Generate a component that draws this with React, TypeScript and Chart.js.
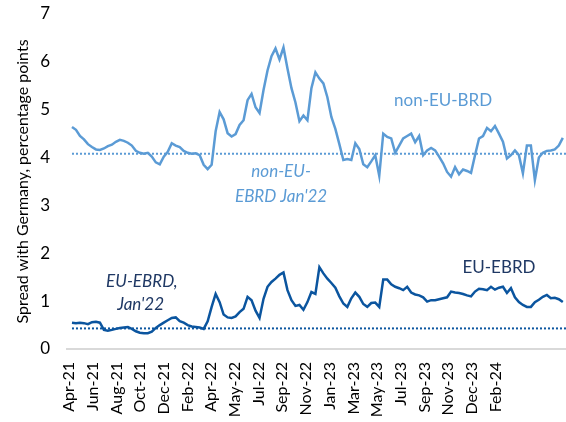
import React, { useEffect, useRef } from 'react';
import { Chart, registerables } from 'chart.js';

Chart.register(...registerables);

// Tick labels along the time axis (every ~2 months)
const tickLabels = [
  'Apr-21', 'Jun-21', 'Aug-21', 'Oct-21', 'Dec-21', 'Feb-22', 'Apr-22', 'May-22', 'Jul-22',
  'Sep-22', 'Nov-22', 'Jan-23', 'Mar-23', 'May-23', 'Jul-23', 'Sep-23', 'Nov-23', 'Dec-23', 'Feb-24',
];

// Spread with Germany, non-EU EBRD countries (pp), roughly weekly readings Apr-21 .. Mar-24
const nonEU = [
  4.64, 4.58, 4.45, 4.38, 4.28, 4.22, 4.17, 4.16, 4.19, 4.24,
  4.27, 4.33, 4.37, 4.35, 4.31, 4.25, 4.14, 4.10, 4.08, 4.10,
  4.02, 3.90, 3.86, 4.02, 4.12, 4.30, 4.25, 4.22, 4.14, 4.10,
  4.08, 4.09, 4.05, 3.85, 3.76, 3.85, 4.55, 4.95, 4.80, 4.51,
  4.44, 4.49, 4.68, 4.78, 5.20, 5.33, 5.05, 4.93, 5.41, 5.82,
  6.12, 6.28, 6.05, 6.30, 5.86, 5.45, 5.15, 4.76, 4.88, 4.78,
  5.45, 5.78, 5.65, 5.55, 5.26, 4.85, 4.60, 4.28, 3.95, 3.97,
  3.95, 4.30, 4.18, 3.86, 3.80, 3.92, 4.05, 3.62, 4.50, 4.43,
  4.40, 4.10, 4.25, 4.40, 4.45, 4.50, 4.32, 4.45, 4.05, 4.15,
  4.20, 4.15, 4.02, 3.88, 3.70, 3.60, 3.80, 3.65, 3.75, 3.72,
  3.68, 4.05, 4.40, 4.45, 4.62, 4.55, 4.66, 4.50, 4.33, 3.98,
  4.05, 4.15, 4.05, 3.67, 4.25, 4.25, 3.53, 4.00, 4.10, 4.14,
  4.15, 4.17, 4.25, 4.41,
];

// Spread with Germany, EU EBRD countries (pp)
const euEBRD = [
  0.55, 0.54, 0.55, 0.54, 0.52, 0.56, 0.57, 0.55, 0.40, 0.38,
  0.40, 0.42, 0.44, 0.45, 0.46, 0.42, 0.37, 0.34, 0.33, 0.33,
  0.36, 0.44, 0.50, 0.55, 0.60, 0.65, 0.66, 0.58, 0.55, 0.50,
  0.47, 0.46, 0.45, 0.42, 0.58, 0.88, 1.15, 0.98, 0.72, 0.66,
  0.65, 0.68, 0.77, 0.84, 1.09, 1.02, 0.80, 0.65, 1.05, 1.30,
  1.40, 1.47, 1.55, 1.60, 1.23, 1.02, 0.90, 0.92, 0.82, 0.98,
  1.19, 1.15, 1.71, 1.58, 1.47, 1.38, 1.28, 1.10, 0.95, 0.88,
  1.06, 1.18, 1.09, 0.94, 0.88, 0.96, 0.97, 0.88, 1.45, 1.45,
  1.35, 1.30, 1.27, 1.23, 1.30, 1.18, 1.14, 1.12, 1.08, 0.99,
  1.02, 1.02, 1.04, 1.06, 1.08, 1.20, 1.18, 1.17, 1.15, 1.12,
  1.10, 1.20, 1.26, 1.25, 1.23, 1.30, 1.24, 1.28, 1.30, 1.17,
  1.27, 1.08, 0.98, 0.92, 0.88, 0.88, 0.98, 1.03, 1.09, 1.13,
  1.06, 1.07, 1.04, 0.98,
];

// Reference levels (Jan'22)
const nonEURef = 4.08;
const euRef = 0.43;

const LIGHT = '#5B9BD5';
const DARK = '#0B559F';
const NAVY = '#1F3864';
const FONT = 'Lato, "Open Sans", sans-serif';

// layout of the time axis
const X_MIN = -1.25;
const X_MAX = 123.8;
const TICK_START = -0.75;
const TICK_STEP = 5.94;

export default function App() {
  const ref = useRef<HTMLCanvasElement>(null);

  useEffect(() => {
    document.body.style.margin = '0';
    const canvas = ref.current;
    if (!canvas) return;
    const toPts = (arr: number[]) => arr.map((y, i) => ({ x: i, y }));

    const notes = [
      { text: 'non-EU-BRD', x: 93, y: 5.2, color: LIGHT, italic: false },
      { text: 'non-EU-', x: 52.4, y: 3.7, color: LIGHT, italic: true },
      { text: "EBRD Jan'22", x: 52.4, y: 3.19, color: LIGHT, italic: true },
      { text: 'EU-EBRD,', x: 17.5, y: 1.4, color: NAVY, italic: true },
      { text: "Jan'22", x: 17.2, y: 0.92, color: NAVY, italic: true },
      { text: 'EU-EBRD', x: 107, y: 1.71, color: NAVY, italic: false },
    ];

    const notePlugin = {
      id: 'notes',
      afterDatasetsDraw(chart: any) {
        const { ctx, scales } = chart;
        ctx.save();
        ctx.textAlign = 'center';
        ctx.textBaseline = 'middle';
        notes.forEach((n) => {
          ctx.font = `${n.italic ? 'italic ' : ''}17px ${FONT}`;
          ctx.fillStyle = n.color;
          ctx.fillText(n.text, scales.x.getPixelForValue(n.x), scales.y.getPixelForValue(n.y));
        });
        ctx.restore();
      },
    };

    const chart = new Chart(canvas, {
      type: 'line',
      data: {
        datasets: [
          {
            data: toPts(nonEU),
            borderColor: LIGHT,
            borderWidth: 2.5,
            pointRadius: 0,
            tension: 0,
          },
          {
            data: toPts(euEBRD),
            borderColor: DARK,
            borderWidth: 2.5,
            pointRadius: 0,
            tension: 0,
          },
          {
            data: [{ x: 0, y: nonEURef }, { x: X_MAX, y: nonEURef }],
            borderColor: LIGHT,
            borderWidth: 2,
            borderDash: [2, 2],
            pointRadius: 0,
          },
          {
            data: [{ x: 0, y: euRef }, { x: X_MAX, y: euRef }],
            borderColor: DARK,
            borderWidth: 2,
            borderDash: [2, 2],
            pointRadius: 0,
          },
        ],
      },
      options: {
        animation: false,
        responsive: false,
        layout: { padding: { top: 0, right: 0, left: 0, bottom: 0 } },
        plugins: { legend: { display: false }, tooltip: { enabled: false } },
        scales: {
          x: {
            type: 'linear',
            min: X_MIN,
            max: X_MAX,
            grid: { display: false, drawTicks: false },
            border: { display: true, color: '#D9D9D9', width: 2 },
            ticks: {
              autoSkip: false,
              maxRotation: 90,
              minRotation: 90,
              padding: 13,
              color: '#000',
              font: { family: FONT, size: 16 },
              callback: (_v: any, i: number) => tickLabels[i],
            },
            afterBuildTicks: (s: any) => {
              s.ticks = tickLabels.map((_, k) => ({ value: TICK_START + k * TICK_STEP }));
            },
            afterFit: (s: any) => {
              s.height = 73;
              s.paddingLeft = 0;
              s.paddingRight = 0;
            },
          },
          y: {
            min: 0,
            max: 7,
            grid: { display: false, drawTicks: false },
            border: { display: false },
            ticks: {
              stepSize: 1,
              padding: 17,
              color: '#000',
              font: { family: FONT, size: 17 },
            },
            title: {
              display: true,
              text: 'Spread with Germany, percentage points',
              color: '#000',
              font: { family: FONT, size: 16 },
              padding: { top: 13, bottom: 0 },
            },
            afterFit: (s: any) => {
              s.width = 67;
              s.paddingTop = 14;
              s.paddingBottom = 0;
            },
          },
        },
      },
      plugins: [notePlugin],
    } as any);

    return () => chart.destroy();
  }, []);

  return (
    <div style={{ width: 566, height: 422 }}>
      <canvas ref={ref} width={566} height={422} />
    </div>
  );
}
